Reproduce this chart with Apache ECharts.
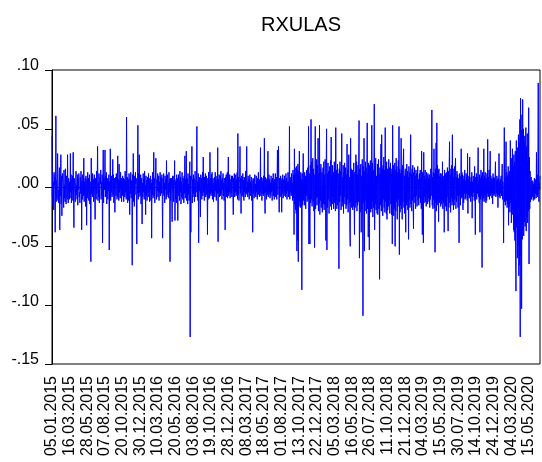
<!DOCTYPE html>
<html>
<head>
<meta charset="utf-8">
<script src="https://cdn.jsdelivr.net/npm/echarts@6/dist/echarts.min.js"></script>
<style>
html,body{margin:0;padding:0;background:#fff;}
#chart{width:542px;height:462px;}
</style>
</head>
<body>
<div id="chart"></div>
<script>
const chartTitle = 'RXULAS';
const tickLabels = ['05.01.2015','16.03.2015','28.05.2015','07.08.2015','20.10.2015','30.12.2015','10.03.2016','20.05.2016','03.08.2016','19.10.2016','28.12.2016','08.03.2017','18.05.2017','01.08.2017','13.10.2017','22.12.2017','05.03.2018','16.05.2018','26.07.2018','11.10.2018','21.12.2018','04.03.2019','15.05.2019','30.07.2019','14.10.2019','24.12.2019','04.03.2020','15.05.2020'];
const obsPerTick = 50;
// daily returns, in thousandths
const rxulasPermille = [
44,-8,11,-15,5,-19,13,2,9,-38, 3,61,-12,6,-9,14,29,-11,-2,-13, 8,17,-36,5,-7,28,-14,10,-24,4, 12,7,-5,-17,15,-9,2,-12,16,-3, -14,10,6,-10,28,-5,-13,8,1,-10,
5,-9,29,-4,11,-13,7,-2,10,-11, 30,-7,-34,8,3,-4,-12,4,14,-6, 2,-10,11,-15,7,-2,12,-8,-4,-13, 9,-5,14,6,-36,6,-10,11,1,-7, 25,-12,5,-5,8,-16,10,3,-32,7,
-9,13,-4,8,-11,2,11,-14,5,-6, -63,25,-5,10,-8,12,4,7,-12,4, 11,-7,-27,8,1,-10,14,-5,7,35, -11,4,-8,12,-13,6,9,3,15,-10, 5,-7,11,-47,3,32,-13,8,-2,5,
32,-8,10,-5,13,-14,4,8,-10,6, -3,11,-53,5,-7,33,-11,7,-4,10, -8,5,24,-6,11,-13,2,8,-21,4, 9,-7,12,3,-10,-5,27,-8,7,-11, 20,-4,6,-9,13,-2,8,-12,5,-7,
10,-5,8,-12,4,7,-8,14,-4,5, -10,60,-7,9,-13,4,7,-11,12,-2, -23,8,-5,13,-9,6,2,-66,11,-7, 29,-12,5,-16,10,-6,13,3,8,-13, -48,7,-5,53,-10,12,-8,28,-4,9,
-7,11,-14,5,8,-31,4,-8,12,-4, 7,-10,14,-5,2,-23,10,-7,6,-11, 5,9,-8,12,-4,7,-12,8,-2,10, -11,4,-43,7,-6,13,-9,5,30,-7, 8,-13,3,11,25,-5,-10,7,-3,12,
-8,6,10,-11,5,-4,13,-7,9,-5, 3,11,-10,-43,8,-5,12,-7,4,-13, 10,-2,7,-10,23,-8,5,11,-6,4, -9,13,-4,7,-63,8,-11,5,8,-7, -29,10,-3,6,-12,10,2,23,-28,5,
-10,7,-13,11,-5,8,-28,4,11,-7, 6,-11,14,-4,9,-14,5,-8,13,-2, -10,8,4,-13,10,-5,27,-9,7,-4, 31,-11,5,8,-14,12,-6,3,-11,7, 22,-127,10,-38,5,9,35,-13,7,-8,
11,-5,8,-12,4,14,-8,6,-4,10, 52,-8,5,-11,12,-47,7,-3,9,-7, -25,11,-5,8,-10,4,13,-7,26,-4, 7,-11,9,-2,12,-8,5,10,-6,3, -40,8,-10,13,-4,6,-9,30,-5,8,
-7,11,-4,13,-10,5,8,-12,4,-6, 9,-8,13,-3,7,-11,5,10,-5,34, -46,7,-4,11,-8,4,10,-7,14,-5, 6,-10,8,-2,12,-7,4,-11,8,5, -36,9,-5,11,-8,3,13,-9,7,26,
-7,8,-4,11,-9,5,7,-5,10,-8, 4,10,-6,-23,8,-2,12,-8,5,-4, 11,-7,7,-5,13,-10,46,-6,9,-11, 4,7,35,-5,8,-22,5,10,-7,3, 12,-8,6,-11,9,-4,7,-8,14,-5,
8,35,-6,5,-8,10,-4,7,-10,4, 11,-7,5,-3,9,-11,6,-5,-38,8, -5,7,-9,4,11,-7,3,-8,10,-4, 6,-10,8,-2,13,-6,5,-8,7,-4, 34,-7,4,9,-11,5,-5,8,-7,10,
-5,42,-8,-22,9,-4,7,-10,5,8, -6,31,-8,4,11,-5,7,-9,4,-7, 10,-4,6,-11,8,-3,12,-7,5,-10, 7,-5,12,-8,4,9,-10,5,32,-6, 7,35,-5,-21,8,-7,4,10,-8,6,
-21,8,-5,11,-9,4,7,-7,10,-4, 6,-8,12,-5,8,-10,5,-3,13,-8, 5,-6,52,-10,7,-4,9,-7,12,-5, 4,-11,15,-9,11,-40,33,-14,17,-19, 12,-22,18,-54,15,-45,20,-63,14,-16,
31,-12,10,-17,13,-9,7,-87,12,-15, 8,29,-11,6,-15,13,-5,10,-18,8, -7,15,-12,5,17,-10,52,-48,12,-38, -48,19,-13,58,-10,22,-16,9,25,-12, 16,-20,11,-51,5,52,-18,13,-9,24,
-15,19,-8,42,-20,12,-13,53,-23,16, -11,20,-17,-16,13,-21,9,17,-14,22, -19,11,-15,24,-7,-45,15,50,-53,12, -17,21,-10,14,-22,8,18,-12,23,-16, 43,-19,10,-14,19,-8,13,-18,7,22,
-13,17,-20,51,-11,15,-18,8,20,-15, 12,-9,-69,16,-12,22,-7,14,-19,10, 46,-16,9,-12,19,-22,13,-8,21,-14, 7,17,-18,11,-15,37,-10,15,-21,12, 28,-13,9,-38,-50,42,-12,16,-17,9,
15,-19,12,-16,21,-10,-40,13,-17,9, 28,-13,22,-20,11,-15,19,-12,25,57, -60,16,-21,12,20,-38,10,-18,24,-15, -109,18,-13,42,-54,14,-20,22,-11,17, -22,13,55,-18,12,-42,21,-16,-53,19,
-15,23,-21,13,-18,53,-12,21,-25,15, -17,11,71,-36,18,-14,25,-19,10,-16, -22,20,-23,15,24,-18,12,-78,17,-15, 12,37,-20,45,-13,16,-24,19,-10,26, -17,15,-21,51,-12,18,-22,22,-27,16,
-19,13,-16,24,-11,17,-22,10,21,-14, 12,-23,16,-48,53,-15,19,-24,11,-18, 21,-50,15,-20,25,-12,18,-27,13,-16, 23,-10,52,-57,16,-21,12,-15,42,-18, 15,-27,19,-12,22,33,-17,10,-22,13,
16,-38,11,-15,20,-12,14,-19,9,-44, 18,-10,13,-17,22,45,-14,12,-20,16, -11,19,-16,-35,13,-8,17,-13,10,-18, 15,-7,12,-16,8,18,-11,7,-15,10, 12,-9,15,-13,8,-18,31,-10,-40,13,
-11,-47,30,-13,10,-8,15,-12,7,-16, 13,-6,10,-14,12,-9,8,-12,11,-17, 7,-10,16,-7,12,66,-15,9,-18,13, -10,33,-17,12,-55,16,-13,38,-20,55, -15,19,-12,15,-29,16,-13,10,-9,12,
-16,12,-14,9,-11,22,-18,10,-13,7, -38,15,-9,12,-16,10,-20,13,-8,17, -12,-37,14,-17,18,39,-13,11,-21,16, -9,19,-15,45,-12,16,-19,9,-15,18, -10,13,25,-18,9,-12,14,-7,11,-17,
8,-10,-47,12,-7,10,-15,5,33,-9, 13,-8,11,-19,7,-13,10,-5,15,-10, 6,-9,12,-5,9,-11,29,-22,7,-6, 10,-9,26,-7,5,-12,9,-7,13,-26, 5,-8,10,-4,7,-11,18,-5,-40,9,
-7,12,-10,9,-5,14,34,-8,6,-13, 11,-38,8,-10,15,-7,10,-68,13,-11, 7,-9,33,-12,10,-6,13,-8,-13,8, -11,12,-5,41,-8,9,-7,15,-10,6, 31,-7,10,-5,8,-9,7,-14,12,-6,
9,-7,8,-5,11,22,-8,6,-5,10, -7,7,-17,8,-6,29,-8,5,-9,7, -5,10,-7,8,20,-10,5,-7,-47,11, 51,-12,9,-15,16,39,-11,13,-17,10, -14,18,-32,11,-16,14,-21,40,-13,17,
-30,25,-19,33,-23,18,-36,28,-38,22, -45,31,-52,-88,40,-34,27,-60,34,-48, 45,-75,38,-66,58,-127,76,-58,49,-103, 62,-44,75,-36,50,-41,39,-29,44,-33, 28,51,-37,35,-25,46,-30,22,-20,68,
-65,26,-18,14,-12,-7,9,-10,-4,6, -8,5,-11,3,-6,8,-10,4,-5,7, -9,30,-6,11,-8,5,89,-3,-12,4, -2,10
];
const yMin = -0.15, yMax = 0.10, yStep = 0.05;

const values = rxulasPermille.map(v => v / 1000);
const categories = values.map((_, i) => i);

function fmtY(v) {
  const s = Math.abs(v).toFixed(2).replace(/^0/, '');
  return (v < -1e-9 ? '-' : '') + s;
}

const font = 'Liberation Sans, Arial, sans-serif';
const chart = echarts.init(document.getElementById('chart'), null, {renderer: 'canvas'});
chart.setOption({
  animation: false,
  backgroundColor: '#ffffff',
  title: {
    text: chartTitle,
    left: 296, top: 10, textAlign: 'center',
    textStyle: {fontFamily: font, fontSize: 20, fontWeight: 'normal', color: '#000'}
  },
  grid: {left: 52, right: 2, top: 70, bottom: 98, show: true, borderColor: '#000', borderWidth: 1, backgroundColor: 'transparent'},
  xAxis: {
    type: 'category', data: categories, boundaryGap: false,
    axisLine: {show: true, lineStyle: {color: '#000', width: 1}},
    axisTick: {show: true, interval: obsPerTick - 1, length: 5, inside: false, lineStyle: {color: '#000'}},
    axisLabel: {
      interval: obsPerTick - 1, rotate: 90, margin: 12, color: '#000',
      fontFamily: font, fontSize: 16,
      formatter: (val, idx) => (idx % obsPerTick === 0 ? (tickLabels[idx / obsPerTick] || '') : '')
    },
    splitLine: {show: false}
  },
  yAxis: {
    type: 'value', min: yMin, max: yMax, interval: yStep,
    axisLine: {show: true, lineStyle: {color: '#000', width: 1}},
    axisTick: {show: true, length: 7, lineStyle: {color: '#000'}},
    axisLabel: {margin: 13, color: '#000', fontFamily: font, fontSize: 16, verticalAlign: 'bottom', lineHeight: 8, formatter: fmtY},
    splitLine: {show: false}
  },
  series: [{
    type: 'line', data: values, showSymbol: false, symbol: 'none',
    lineStyle: {color: '#0000ff', width: 1}, itemStyle: {color: '#0000ff'}
  }]
});
</script>
</body>
</html>
